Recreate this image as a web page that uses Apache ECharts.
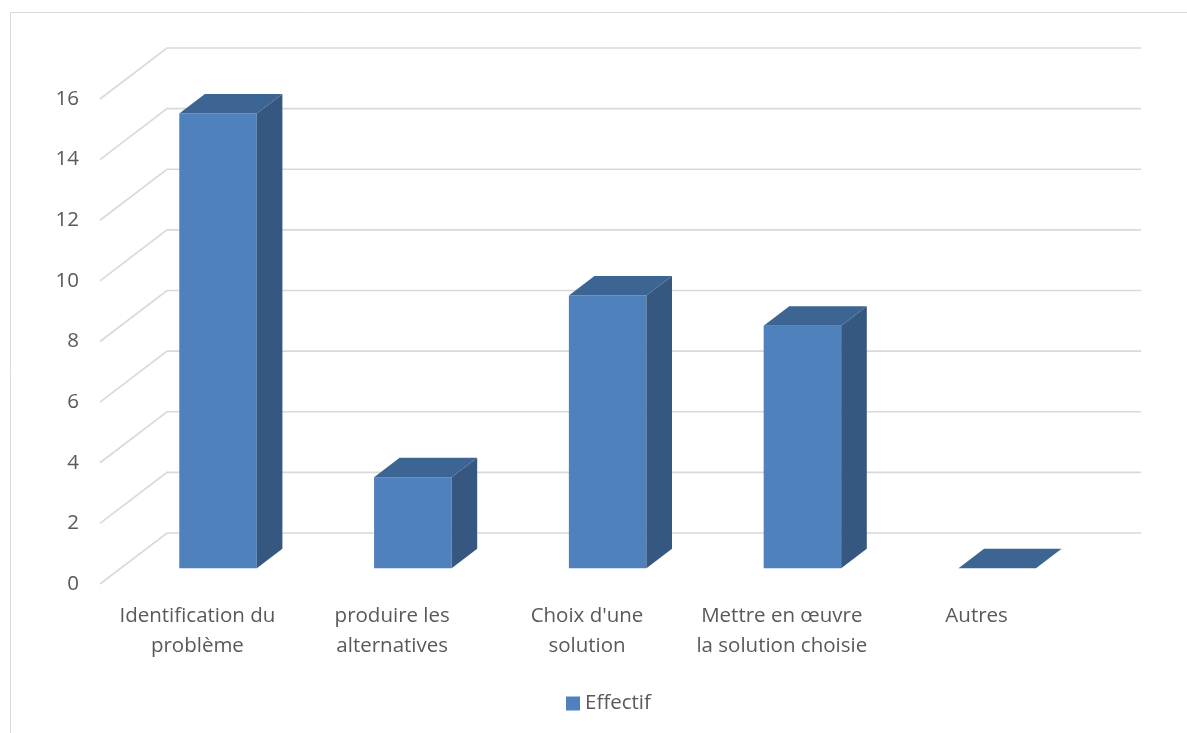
<!DOCTYPE html>
<html>
<head>
<meta charset="utf-8">
<script src="https://cdn.jsdelivr.net/npm/echarts@6/dist/echarts.min.js"></script>
<style>
  html, body { margin: 0; padding: 0; background: #ffffff; }
  #chart { width: 1187px; height: 733px; }
</style>
</head>
<body>
<div id="chart"></div>
<script>
// Data
const categories = [
  'Identification du\nproblème',
  'produire les\nalternatives',
  "Choix d'une\nsolution",
  'Mettre en œuvre\nla solution choisie',
  'Autres'
];
const effectif = [15, 3, 9, 8, 0];
const yTicks = [0, 2, 4, 6, 8, 10, 12, 14, 16];
const seriesName = 'Effectif';

// 3D projection: depth offset of the back wall, in pixels
const DEPTH_DX = 67;
const DEPTH_DY = -51;
// bars sit between these depth fractions
const BAR_FRONT = 0.308;
const BAR_BACK = 0.69;
const BAR_WIDTH_RATIO = 0.398;

const textColor = '#595959';
const gridColor = '#d9d9d9';
const frontColor = '#4F81BD';
const sideColor = '#36577f';
const topColor = '#3d6593';
const fontFamily = 'Open Sans';

const chart = echarts.init(document.getElementById('chart'), null, { renderer: 'canvas' });

// Back wall and side wall gridlines, one polyline per tick value
function renderWalls(params, api) {
  const cs = params.coordSys;
  const v = api.value(0);
  const y = api.coord([0, v])[1];
  const x0 = cs.x;
  const x1 = cs.x + cs.width;
  return {
    type: 'polyline',
    shape: {
      points: [
        [x0, y],
        [x0 + DEPTH_DX, y + DEPTH_DY],
        [x1 + DEPTH_DX, y + DEPTH_DY]
      ]
    },
    style: { stroke: gridColor, lineWidth: 1.6, fill: null },
    silent: true
  };
}

// Box-shaped columns: front face, right side face and top face
function renderBars(params, api) {
  const idx = api.value(0);
  const val = api.value(1);
  const base = api.coord([idx, 0]);
  const topPt = api.coord([idx, val]);
  const w = api.size([1, 0])[0] * BAR_WIDTH_RATIO;
  const fx = DEPTH_DX * BAR_FRONT, fy = DEPTH_DY * BAR_FRONT;
  const bx = DEPTH_DX * BAR_BACK, by = DEPTH_DY * BAR_BACK;
  const left = base[0] - w / 2 + fx;
  const right = base[0] + w / 2 + fx;
  const yb = base[1] + fy;
  const yt = topPt[1] + fy;
  const ddx = bx - fx, ddy = by - fy;
  const children = [];
  if (yb - yt > 0.01) {
    children.push({
      type: 'rect',
      shape: { x: left, y: yt, width: right - left, height: yb - yt },
      style: { fill: frontColor }
    });
    children.push({
      type: 'polygon',
      shape: { points: [[right, yt], [right + ddx, yt + ddy], [right + ddx, yb + ddy], [right, yb]] },
      style: { fill: sideColor }
    });
  }
  children.push({
    type: 'polygon',
    shape: { points: [[left, yt], [left + ddx, yt + ddy], [right + ddx, yt + ddy], [right, yt]] },
    style: { fill: topColor }
  });
  return { type: 'group', children: children };
}

const option = {
  backgroundColor: '#ffffff',
  animation: false,
  textStyle: { fontFamily: fontFamily, color: textColor },
  graphic: [{
    type: 'rect',
    shape: { x: 10.5, y: 12.5, width: 1200, height: 800 },
    style: { fill: null, stroke: gridColor, lineWidth: 1 },
    silent: true,
    z: -10
  }],
  grid: { left: 100, right: 113, top: 99, bottom: 149, containLabel: false },
  legend: {
    data: [{ name: seriesName, icon: 'rect' }],
    left: 566,
    top: 693,
    padding: 0,
    itemWidth: 14,
    itemHeight: 14,
    itemGap: 5,
    textStyle: { fontFamily: fontFamily, fontSize: 20.5, color: textColor }
  },
  xAxis: {
    type: 'category',
    data: categories,
    boundaryGap: true,
    axisLine: { show: false },
    axisTick: { show: false },
    splitLine: { show: false },
    axisLabel: {
      interval: 0,
      margin: 17,
      color: textColor,
      fontFamily: fontFamily,
      fontSize: 20.5,
      lineHeight: 30
    }
  },
  yAxis: {
    type: 'value',
    min: 0,
    max: 16,
    interval: 2,
    axisLine: { show: false },
    axisTick: { show: false },
    splitLine: { show: false },
    axisLabel: {
      margin: 21,
      color: textColor,
      fontFamily: fontFamily,
      fontSize: 20.5
    }
  },
  series: [
    {
      type: 'custom',
      renderItem: renderWalls,
      data: yTicks.map(function (v) { return [v]; }),
      encode: { y: 0 },
      silent: true,
      z: 1
    },
    {
      name: seriesName,
      type: 'custom',
      renderItem: renderBars,
      itemStyle: { color: frontColor },
      data: effectif.map(function (v, i) { return [i, v]; }),
      encode: { x: 0, y: 1 },
      z: 2
    }
  ]
};

chart.setOption(option);
</script>
</body>
</html>
